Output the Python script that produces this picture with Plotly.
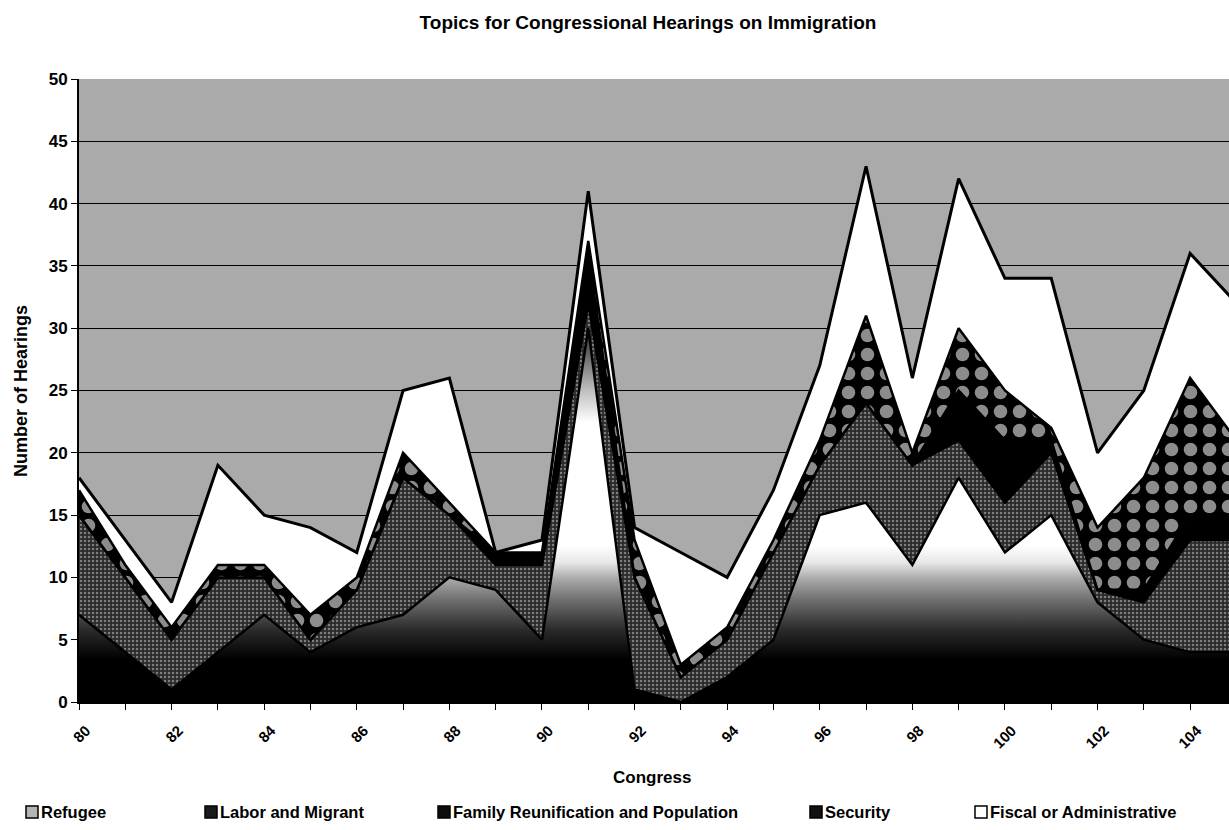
import plotly.graph_objects as go

# Congress numbers (80th through 105th)
congress = list(range(80, 106))

# Hearings per topic, stacked bottom to top in this order
refugee = [7, 4, 1, 4, 7, 4, 6, 7, 10, 9, 5, 30, 1, 0, 2, 5, 15, 16, 11, 18, 12, 15, 8, 5, 4, 4]
labor_migrant = [8, 6, 4, 6, 3, 1, 3, 11, 5, 2, 6, 2, 9, 2, 3, 7, 4, 8, 8, 3, 4, 5, 1, 3, 9, 9]
family_population = [0, 0, 0, 0, 0, 0, 0, 0, 0, 1, 1, 4, 0, 0, 0, 0, 0, 0, 0, 4, 5, 1, 0, 1, 2, 2]
security = [2, 1, 1, 1, 1, 2, 1, 2, 1, 0, 0, 1, 3, 1, 1, 1, 2, 7, 1, 5, 4, 1, 5, 9, 11, 6]
fiscal_admin = [1, 2, 2, 8, 4, 7, 2, 5, 10, 0, 1, 4, 1, 9, 4, 4, 6, 12, 6, 12, 9, 12, 6, 7, 10, 11]

series_names = [
    "Refugee",
    "Labor and Migrant",
    "Family Reunification and Population",
    "Security",
    "Fiscal or Administrative",
]

FONT = "Arial, Liberation Sans, sans-serif"
W, H = 1229, 830
ML, MR, MT, MB = 79, 0, 79, 128
PW, PH = W - ML - MR, H - MT - MB

edge = dict(color="black", width=2.5)

fig = go.Figure()

# Refugee: vertical "from centre" gradient, dark at bottom and top, white in middle
fig.add_trace(go.Scatter(
    x=congress, y=refugee, name=series_names[0], mode="lines",
    stackgroup="one", line=edge, hoverinfo="skip",
    fillgradient=dict(
        type="vertical", start=0, stop=34,
        colorscale=[
            [0.0, "#000000"], [0.10, "#000000"], [0.17, "#2a2a2a"],
            [0.24, "#6e6e6e"], [0.29, "#a8a8a8"], [0.33, "#e8e8e8"],
            [0.37, "#ffffff"], [0.66, "#ffffff"], [0.74, "#bbbbbb"],
            [0.82, "#666666"], [0.90, "#202020"], [1.0, "#000000"],
        ],
    ),
))

# Labor and Migrant: dark grey stipple
fig.add_trace(go.Scatter(
    x=congress, y=labor_migrant, name=series_names[1], mode="lines",
    stackgroup="one", line=edge, hoverinfo="skip",
    fillcolor="#3c3c3c",
    fillpattern=dict(shape=".", size=4, solidity=0.3,
                     bgcolor="#2a2a2a", fgcolor="#7e7e7e", fillmode="replace"),
))

# Family Reunification and Population: solid black
fig.add_trace(go.Scatter(
    x=congress, y=family_population, name=series_names[2], mode="lines",
    stackgroup="one", line=edge, hoverinfo="skip",
    fillcolor="#000000",
))

# Security: checker of grey squares on black
fig.add_trace(go.Scatter(
    x=congress, y=security, name=series_names[3], mode="lines",
    stackgroup="one", line=edge, hoverinfo="skip",
    fillcolor="#000000",
    fillpattern=dict(shape=".", size=19, solidity=0.4,
                     bgcolor="#000000", fgcolor="#8c8c8c", fillmode="replace"),
))

# Fiscal or Administrative: white
fig.add_trace(go.Scatter(
    x=congress, y=fiscal_admin, name=series_names[4], mode="lines",
    stackgroup="one", line=dict(color="black", width=3), hoverinfo="skip",
    fillcolor="#ffffff",
))


def px_x(p):
    return (p - ML) / PW


def px_y(p):
    return (H - MB - p) / PH


# Hand-placed legend row under the axis title
legend_items = [
    (series_names[0], 26, "#b5b5b5"),
    (series_names[1], 205, "#1a1a1a"),
    (series_names[2], 438, "#0d0d0d"),
    (series_names[3], 810, "#111111"),
    (series_names[4], 975, "#ffffff"),
]
shapes = []
annotations = []
ly = 812
for name, bx, color in legend_items:
    shapes.append(dict(
        type="rect", xref="paper", yref="paper",
        x0=px_x(bx), x1=px_x(bx + 12), y0=px_y(ly + 6), y1=px_y(ly - 6),
        fillcolor=color, line=dict(color="black", width=1.5), layer="above",
    ))
    annotations.append(dict(
        text=name, xref="paper", yref="paper", x=px_x(bx + 13), y=px_y(ly),
        xanchor="left", yanchor="middle", showarrow=False,
        font=dict(family=FONT, size=16.5, color="black", weight="bold"),
    ))

annotations.append(dict(
    text="Congress", xref="paper", yref="paper", x=px_x(652), y=px_y(777),
    xanchor="center", yanchor="middle", showarrow=False,
    font=dict(family=FONT, size=17, color="black", weight="bold"),
))
annotations.append(dict(
    text="Number of Hearings", xref="paper", yref="paper", x=px_x(21), y=px_y(391),
    xanchor="center", yanchor="middle", showarrow=False, textangle=-90,
    font=dict(family=FONT, size=18, color="black", weight="bold"),
))

fig.update_layout(
    width=W, height=H,
    margin=dict(l=ML, r=MR, t=MT, b=MB),
    paper_bgcolor="white",
    plot_bgcolor="#aaaaaa",
    showlegend=False,
    title=dict(
        text="Topics for Congressional Hearings on Immigration",
        x=648 / W, y=1 - 22 / H, xref="container", yref="container",
        xanchor="center", yanchor="middle",
        font=dict(family=FONT, size=19, color="black", weight="bold"),
    ),
    shapes=shapes,
    annotations=annotations,
    xaxis=dict(
        range=[80, 104.84], tickmode="linear", tick0=80, dtick=2,
        tickangle=-45, ticks="outside", ticklen=6, tickcolor="black", tickwidth=1,
        ticklabelstandoff=6, ticklabelshift=7,
        showline=True, linecolor="black", linewidth=2,
        showgrid=False, zeroline=False,
        minor=dict(dtick=1, ticks="outside", ticklen=6, tickcolor="black", showgrid=False),
        tickfont=dict(family=FONT, size=15, color="black", weight="bold"),
    ),
    yaxis=dict(
        range=[0, 50], tickmode="linear", tick0=0, dtick=5,
        ticks="outside", ticklen=6, tickcolor="black",
        showline=True, linecolor="black", linewidth=2,
        showgrid=True, gridcolor="black", gridwidth=1, zeroline=False,
        tickfont=dict(family=FONT, size=17, color="black", weight="bold"),
    ),
)

fig.write_html("out.html")
